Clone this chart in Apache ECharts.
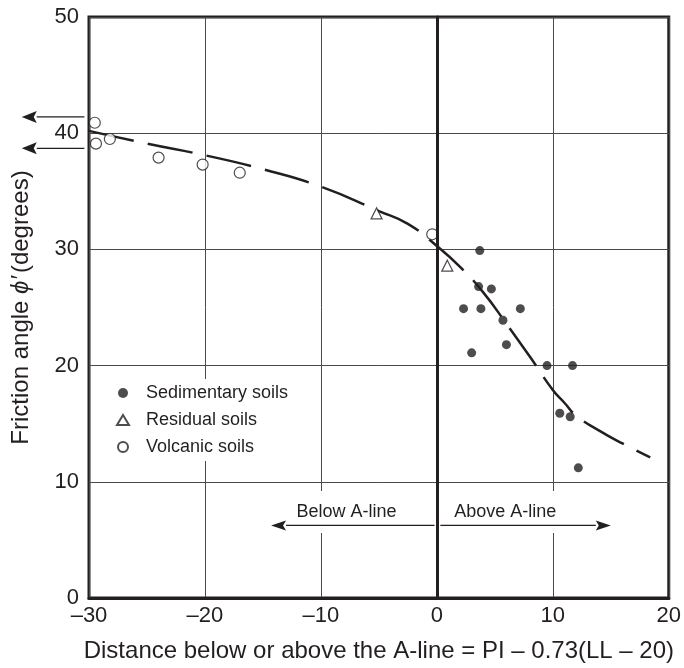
<!DOCTYPE html>
<html>
<head>
<meta charset="utf-8">
<script src="https://cdn.jsdelivr.net/npm/echarts@6/dist/echarts.min.js"></script>
<style>
  html, body { margin: 0; padding: 0; background: #fff; }
  #chart { width: 684px; height: 668px; }
</style>
</head>
<body>
<div id="chart"></div>
<script>
"use strict";
// data
var sedimentary = [
    [3.7, 29.9], [3.6, 26.8], [4.7, 26.6], [2.3, 24.9], [3.8, 24.9], [7.2, 24.9],
    [5.7, 23.9], [6.0, 21.8], [3.0, 21.1], [9.5, 20.0], [11.7, 20.0],
    [10.6, 15.9], [11.5, 15.6], [12.2, 11.2]
];
var residual = [[-5.2, 33.1], [0.9, 28.6]];
var volcanic = [
    [-29.5, 40.9], [-29.4, 39.1], [-28.2, 39.5], [-24.0, 37.9],
    [-20.2, 37.3], [-17.0, 36.6], [-0.4, 31.3]
];
var trendCurve = [
    [-30, 40.2], [-25, 39.1], [-20, 38.1], [-15, 36.9], [-10, 35.4], [-5, 33.3],
    [-2.5, 32.2], [0, 30.3], [2, 28.5], [4, 26.3], [6, 23.6], [8, 20.8],
    [10, 17.9], [11, 16.8], [12, 15.7], [14, 14.4], [16, 13.3], [18.4, 12.1]
];
// annotation arrows: [fromX, fromY, toX, toY]
var offScaleArrows = [[-30.4, 41.4, -35.8, 41.4], [-30.4, 38.7, -35.8, 38.7]];
var sideArrows = [[-0.2, 6.25, -14.3, 6.25], [0.3, 6.25, 15.0, 6.25]];
var sideLabels = [["Below A-line", -7.8, 7.4], ["Above A-line", 5.9, 7.4]];

var font = "Liberation Sans";
var ink = "#231f20";

var chart = echarts.init(document.getElementById("chart"));
var option = {
    animation: false,
    backgroundColor: "#fff",
    textStyle: { fontFamily: font, color: ink },
    grid: {
        left: 89, right: 15, top: 17, bottom: 68,
        show: true, borderColor: ink, borderWidth: 3, backgroundColor: "transparent"
    },
    legend: {
        orient: "vertical",
        left: 110, top: 379,
        data: ["Sedimentary soils", "Residual soils", "Volcanic soils"],
        itemWidth: 12, itemHeight: 10, itemGap: 9,
        backgroundColor: "#fff",
        padding: [5, 8, 5, 6],
        textStyle: { fontFamily: font, fontSize: 18, color: ink, padding: [0, 0, 0, 12] }
    },
    xAxis: {
        type: "value", min: -30, max: 20, interval: 10,
        name: "Distance below or above the A-line = PI \u2013 0.73(LL \u2013 20)",
        nameLocation: "middle", nameGap: 41,
        nameTextStyle: { fontSize: 24, color: ink, fontFamily: font },
        axisLine: { lineStyle: { color: ink, width: 3 } },
        axisTick: { show: false },
        axisLabel: {
            fontSize: 22, color: ink, margin: 7,
            formatter: function (v) { return v < 0 ? "\u2013" + Math.abs(v) : String(v); }
        },
        splitLine: { lineStyle: { color: "#4a4a4a", width: 1 } }
    },
    yAxis: {
        type: "value", min: 0, max: 50, interval: 10,
        name: "Friction angle {i|\u03d5\u2032}(degrees)",
        nameLocation: "middle", nameGap: 56, nameRotate: 90,
        nameTextStyle: {
            fontSize: 24, color: ink, fontFamily: font,
            rich: { i: { fontSize: 24, fontStyle: "italic", fontFamily: font, color: ink, padding: [0, 3, 0, 0] } }
        },
        axisLine: { lineStyle: { color: ink, width: 3 } },
        axisTick: { show: false },
        axisLabel: { fontSize: 22, color: ink, margin: 10 },
        splitLine: { lineStyle: { color: "#4a4a4a", width: 1 } }
    },
    series: [
        {
            name: "trend", type: "line", data: trendCurve, smooth: true,
            symbol: "none", z: 3,
            lineStyle: { color: ink, width: 2.5, type: [46, 14] },
            markLine: {
                silent: true, symbol: "none", label: { show: false },
                lineStyle: { color: ink, width: 3, type: "solid" },
                data: [{ xAxis: 0 }]
            }
        },
        {
            name: "Sedimentary soils", type: "scatter", data: sedimentary,
            symbol: "circle", symbolSize: 9, z: 4,
            itemStyle: { color: ink }
        },
        {
            name: "Residual soils", type: "scatter", data: residual,
            symbol: "triangle", symbolSize: 11, z: 4,
            itemStyle: { color: "#fff", borderColor: ink, borderWidth: 1.2 }
        },
        {
            name: "Volcanic soils", type: "scatter", data: volcanic,
            symbol: "circle", symbolSize: 11, z: 4,
            itemStyle: { color: "#fff", borderColor: ink, borderWidth: 1.2 }
        }
    ]
};
chart.setOption(option);

function arrowGraphic(a, headLen, headHalf) {
    var p0 = chart.convertToPixel({ gridIndex: 0 }, [a[0], a[1]]);
    var p1 = chart.convertToPixel({ gridIndex: 0 }, [a[2], a[3]]);
    var dir = p1[0] < p0[0] ? -1 : 1;
    var baseX = p1[0] - dir * headLen;
    return [
        {
            type: "line", z: 11,
            shape: { x1: p0[0], y1: p0[1], x2: baseX, y2: p1[1] },
            style: { stroke: ink, lineWidth: 1.3 }
        },
        {
            type: "polygon", z: 11,
            shape: { points: [[p1[0], p1[1]], [baseX, p1[1] - headHalf], [baseX + dir * 3, p1[1]], [baseX, p1[1] + headHalf]] },
            style: { fill: ink }
        }
    ];
}

var graphics = [];
offScaleArrows.forEach(function (a) {
    graphics = graphics.concat(arrowGraphic(a, 15, 6));
});
sideArrows.forEach(function (a) {
    graphics = graphics.concat(arrowGraphic(a, 15, 5));
});
sideLabels.forEach(function (l) {
    var p = chart.convertToPixel({ gridIndex: 0 }, [l[1], l[2]]);
    graphics.push({
        type: "text", z: 9,
        x: p[0], y: p[1],
        style: {
            text: l[0], fill: ink, font: "18px " + font,
            align: "center", verticalAlign: "middle",
            backgroundColor: "#fff", padding: [8, 4, 16, 4]
        }
    });
});
chart.setOption({ graphic: graphics });
</script>
</body>
</html>
